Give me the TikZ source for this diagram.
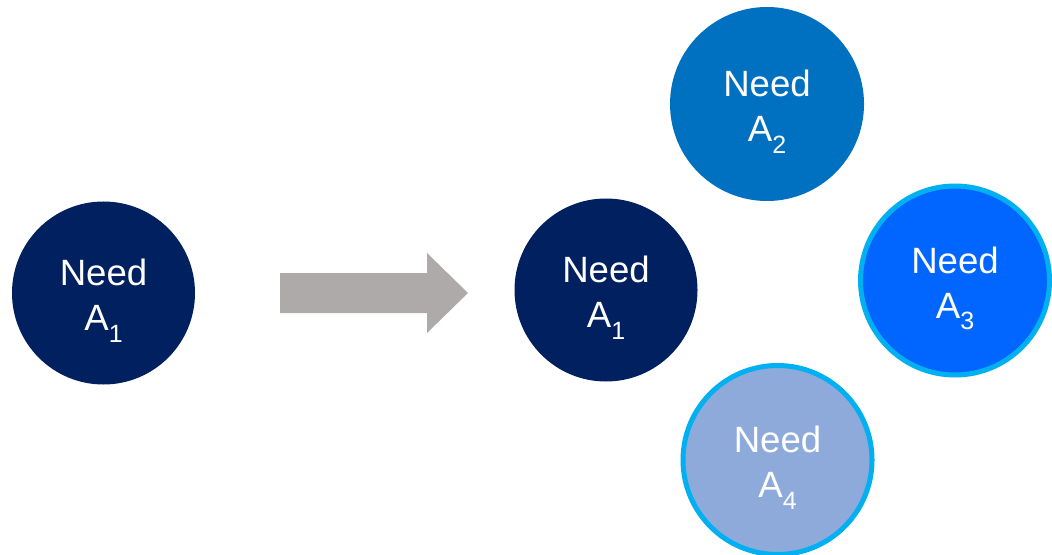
\documentclass[tikz,border=0pt]{standalone}
\usepackage{fontspec}
\setmainfont{Liberation Sans}
\definecolor{navy}{HTML}{002060}
\definecolor{midblue}{HTML}{0070C0}
\definecolor{brightblue}{HTML}{0066FF}
\definecolor{paleblue}{HTML}{8EAADB}
\definecolor{rim}{HTML}{00B0F0}
\definecolor{arrowgrey}{HTML}{AEAAAA}
% two-line label with a lowered index
\newcommand{\needlabel}[1]{\rule{0pt}{15.2pt}Need\\A\raisebox{-0.32em}[0pt][0pt]{\fontsize{12.5}{12.5}\selectfont #1}}
\begin{document}
\begin{tikzpicture}[x=0.5pt,y=-0.5pt,
  need/.style={circle,inner sep=0pt,text=white,align=center,
    font=\fontsize{18.3}{22.5}\selectfont},
  plain/.style={need,minimum size=91.5pt},
  ringed/.style={need,minimum size=94.5pt,line width=2.5pt,draw=rim}]
  \useasboundingbox (0,0) rectangle (1052,555);
  % single need
  \node[plain,fill=navy] (a1) at (103.5,293) {\needlabel{1}};
  % transition arrow
  \fill[arrowgrey] (280,273) -- (427,273) -- (427,253) -- (468,293)
    -- (427,333) -- (427,313) -- (280,313) -- cycle;
  % need split into several
  \node[plain,fill=navy] (b1) at (606,290) {\needlabel{1}};
  \node[need,minimum size=97pt,fill=midblue] (b2) at (767,104) {\needlabel{2}};
  \node[ringed,fill=brightblue] (b3) at (955,280.5) {\needlabel{3}};
  \node[ringed,fill=paleblue] (b4) at (777.5,460) {\needlabel{4}};
\end{tikzpicture}
\end{document}
